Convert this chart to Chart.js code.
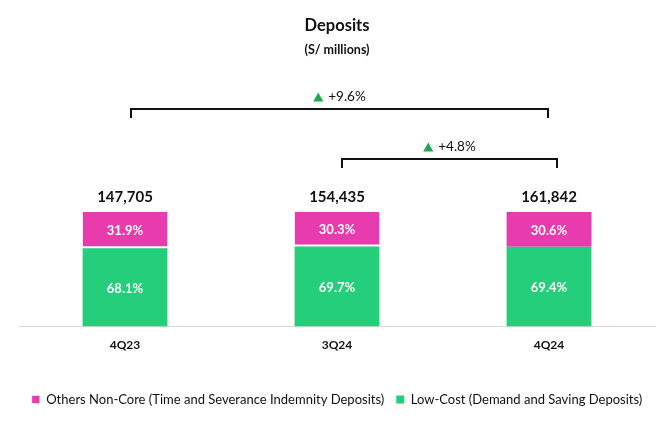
<!DOCTYPE html>
<html>
<head>
<meta charset="utf-8">
<script src="https://cdn.jsdelivr.net/npm/chart.js@4/dist/chart.umd.min.js"></script>
<style>
  html, body { margin: 0; padding: 0; background: #fff; }
  #wrap { width: 663px; height: 422px; }
</style>
</head>
<body>
<div id="wrap"><canvas id="chart"></canvas></div>
<script>
'use strict';

// ── data ─────────────────────────────────────────────────────────────
const QUARTERS  = ['4Q23', '3Q24', '4Q24'];
const NON_CORE  = [31.9, 30.3, 30.6];
const LOW_COST  = [68.1, 69.7, 69.4];
const TOTALS    = ['147,705', '154,435', '161,842'];
const GROWTH    = [
  { from: 0, to: 2, label: '+9.6%' },
  { from: 1, to: 2, label: '+4.8%' },
];

const PINK  = '#E83BAE';
const GREEN = '#25CE7B';
const FONT  = "Lato, 'Open Sans', sans-serif";

// ── overlay: totals, brackets, growth arrows, in-bar labels ──────────
const overlay = {
  id: 'overlay',
  afterDatasetsDraw(chart) {
    const { ctx, scales: { x, y } } = chart;
    ctx.save();
    ctx.textAlign = 'center';
    ctx.textBaseline = 'middle';

    // percentages inside segments
    chart.data.datasets.forEach((ds, di) => {
      chart.getDatasetMeta(di).data.forEach((bar, i) => {
        const mid = (bar.y + bar.base) / 2;
        ctx.fillStyle = '#fff';
        ctx.font = `bold 13px ${FONT}`;
        ctx.fillText(ds.data[i].toFixed(1) + '%', bar.x, mid + 1);
      });
    });

    // totals above bars
    ctx.fillStyle = '#111';
    ctx.font = `bold 15px ${FONT}`;
    TOTALS.forEach((t, i) => ctx.fillText(t, x.getPixelForValue(i), y.getPixelForValue(100) - 15));

    // brackets
    const brackets = [
      { g: GROWTH[0], x0: x.getPixelForValue(GROWTH[0].from) + 6, x1: x.getPixelForValue(GROWTH[0].to) - 1, yy: 109 },
      { g: GROWTH[1], x0: x.getPixelForValue(GROWTH[1].from) + 5, x1: x.getPixelForValue(GROWTH[1].to) + 8, yy: 159 },
    ];
    brackets.forEach(({ g, x0, x1, yy }) => {
      ctx.strokeStyle = '#111';
      ctx.lineWidth = 2;
      ctx.beginPath();
      ctx.moveTo(x0, yy + 9);
      ctx.lineTo(x0, yy);
      ctx.lineTo(x1, yy);
      ctx.lineTo(x1, yy + 9);
      ctx.stroke();

      const cx = (x0 + x1) / 2;
      ctx.font = `13.5px ${FONT}`;
      const tw = ctx.measureText(g.label).width;
      const triW = 10, gap = 5;
      const start = cx - (triW + gap + tw) / 2;
      const ty = yy - 12;
      ctx.fillStyle = '#1BA84E';
      ctx.beginPath();
      ctx.moveTo(start, ty + 4.5);
      ctx.lineTo(start + triW / 2, ty - 4.5);
      ctx.lineTo(start + triW, ty + 4.5);
      ctx.closePath();
      ctx.fill();
      ctx.fillStyle = '#111';
      ctx.textAlign = 'left';
      ctx.fillText(g.label, start + triW + gap, ty);
      ctx.textAlign = 'center';
    });

    ctx.restore();
  },
};

// ── chart ────────────────────────────────────────────────────────────
new Chart(document.getElementById('chart').getContext('2d'), {
  type: 'bar',
  data: {
    labels: QUARTERS,
    datasets: [
      {
        label: 'Low-Cost (Demand and Saving Deposits)',
        data: LOW_COST,
        backgroundColor: GREEN,
        borderWidth: 0,
      },
      {
        label: 'Others Non-Core (Time and Severance Indemnity Deposits)',
        data: NON_CORE,
        backgroundColor: PINK,
        borderColor: '#fff',
        borderWidth: (c) => (c.dataIndex < 2 ? { bottom: 2, top: 0, left: 0, right: 0 } : 0),
        borderSkipped: false,
      },
    ],
  },
  options: {
    responsive: true,
    maintainAspectRatio: false,
    animation: false,
    layout: { padding: { top: 0, left: 19, right: 8, bottom: 6 } },
    datasets: { bar: { categoryPercentage: 1, barPercentage: 0.4 } },
    scales: {
      x: {
        stacked: true,
        grid: { display: false },
        border: { color: '#D9D9D9', width: 1 },
        ticks: { color: '#111', font: { family: FONT, size: 12, weight: 'bold' }, padding: 4 },
      },
      y: { stacked: true, display: false, min: 0, max: 100 },
    },
    plugins: {
      title: {
        display: true,
        text: 'Deposits',
        color: '#111',
        font: { family: FONT, size: 16.5, weight: 'bold' },
        padding: { top: 16, bottom: 7 },
      },
      subtitle: {
        display: true,
        text: '(S/ millions)',
        color: '#111',
        font: { family: FONT, size: 12.5, weight: 'bold' },
        padding: { bottom: 154 },
      },
      legend: {
        position: 'bottom',
        reverse: true,
        title: { display: true, text: ' ', font: { size: 1 }, padding: { top: 0, bottom: 23 } },
        labels: {
          color: '#111',
          font: { family: FONT, size: 13 },
          boxWidth: 8, boxHeight: 8,
          padding: 12,
        },
      },
      tooltip: { enabled: false },
    },
  },
  plugins: [overlay],
});
</script>
</body>
</html>
